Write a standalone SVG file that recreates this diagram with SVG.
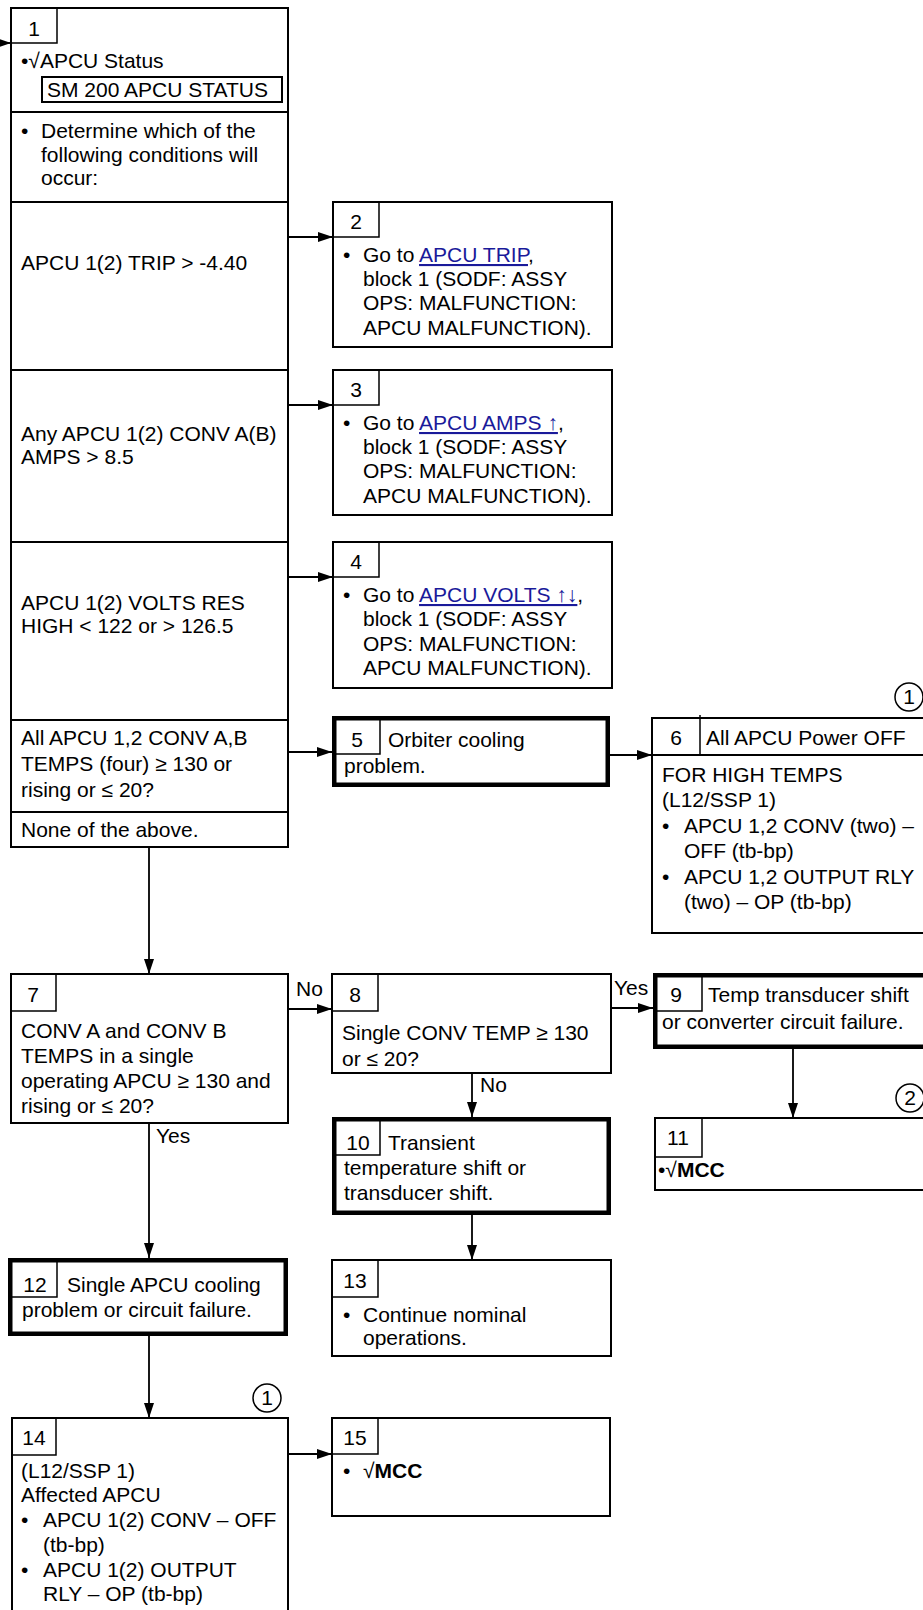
<svg xmlns="http://www.w3.org/2000/svg" width="923" height="1610" viewBox="0 0 923 1610">
<style>
text{font-family:"Liberation Sans",Arial,sans-serif;font-size:21px;fill:#000}
.box{fill:#fff;stroke:#000;stroke-width:2}
.thick{fill:#fff;stroke:#000;stroke-width:4.5}
.nb{fill:none;stroke:#000;stroke-width:1.5}
.div{fill:none;stroke:#000;stroke-width:2}
.c{text-anchor:middle}
.lnk{fill:#1a1a9a;text-decoration:underline}
.b{font-weight:bold}
.conn line,.conn path{fill:none;stroke:#000;stroke-width:1.8}
.circ{fill:#fff;stroke:#000;stroke-width:1.5}
</style>
<defs>
<marker id="ah" markerUnits="userSpaceOnUse" markerWidth="15" markerHeight="10" refX="15" refY="5" orient="auto">
<path d="M0,0 L15,5 L0,10 z" fill="#000"/>
</marker>
</defs>
<rect width="923" height="1610" fill="#fff"/>

<g id="connectors" class="conn">
<line x1="-10" y1="43" x2="11" y2="43" marker-end="url(#ah)"/>
<line x1="288" y1="237" x2="333" y2="237" marker-end="url(#ah)"/>
<line x1="288" y1="405" x2="333" y2="405" marker-end="url(#ah)"/>
<line x1="288" y1="577" x2="333" y2="577" marker-end="url(#ah)"/>
<line x1="288" y1="752" x2="332" y2="752" marker-end="url(#ah)"/>
<line x1="610" y1="755" x2="652" y2="755" marker-end="url(#ah)"/>
<line x1="149" y1="847" x2="149" y2="974" marker-end="url(#ah)"/>
<line x1="288" y1="1009" x2="332" y2="1009" marker-end="url(#ah)"/>
<line x1="611" y1="1008" x2="653" y2="1008" marker-end="url(#ah)"/>
<line x1="793" y1="1049" x2="793" y2="1118" marker-end="url(#ah)"/>
<line x1="472" y1="1073" x2="472" y2="1117" marker-end="url(#ah)"/>
<line x1="472" y1="1215" x2="472" y2="1260" marker-end="url(#ah)"/>
<line x1="149" y1="1123" x2="149" y2="1258" marker-end="url(#ah)"/>
<line x1="149" y1="1336" x2="149" y2="1418" marker-end="url(#ah)"/>
<line x1="288" y1="1454" x2="332" y2="1454" marker-end="url(#ah)"/>
<text x="296" y="996">No</text>
<text x="614" y="995">Yes</text>
<text x="480" y="1092">No</text>
<text x="156" y="1143">Yes</text>
</g>

<g id="node1">
<rect class="box" x="11" y="8" width="277" height="839"/>
<path class="nb" d="M57,8 V43 H11"/>
<text class="c" x="34" y="36">1</text>
<text x="21" y="68">•√APCU Status</text>
<rect class="box" x="42" y="77" width="240" height="25"/>
<text x="47" y="97">SM 200 APCU STATUS</text>
<line class="div" x1="11" y1="112" x2="288" y2="112"/>
<text x="21" y="138">•</text>
<text x="41" y="138">Determine which of the</text>
<text x="41" y="162">following conditions will</text>
<text x="41" y="185">occur:</text>
<line class="div" x1="11" y1="202" x2="288" y2="202"/>
<text x="21" y="270">APCU 1(2) TRIP &gt; -4.40</text>
<line class="div" x1="11" y1="370" x2="288" y2="370"/>
<text x="21" y="441">Any APCU 1(2) CONV A(B)</text>
<text x="21" y="464">AMPS &gt; 8.5</text>
<line class="div" x1="11" y1="542" x2="288" y2="542"/>
<text x="21" y="610">APCU 1(2) VOLTS RES</text>
<text x="21" y="633">HIGH &lt; 122 or &gt; 126.5</text>
<line class="div" x1="11" y1="720" x2="288" y2="720"/>
<text x="21" y="745">All APCU 1,2 CONV A,B</text>
<text x="21" y="771">TEMPS (four) ≥ 130 or</text>
<text x="21" y="797">rising or ≤ 20?</text>
<line class="div" x1="11" y1="812" x2="288" y2="812"/>
<text x="21" y="837">None of the above.</text>
</g>

<g id="node2">
<rect class="box" x="333" y="202" width="279" height="145"/>
<path class="nb" d="M379,202 V237 H333"/>
<text class="c" x="356" y="229">2</text>
<text x="343" y="262">•</text>
<text x="363" y="262">Go to <tspan class="lnk">APCU TRIP</tspan>,</text>
<text x="363" y="286">block 1 (SODF: ASSY</text>
<text x="363" y="310">OPS: MALFUNCTION:</text>
<text x="363" y="335">APCU MALFUNCTION).</text>
</g>

<g id="node3">
<rect class="box" x="333" y="370" width="279" height="145"/>
<path class="nb" d="M379,370 V405 H333"/>
<text class="c" x="356" y="397">3</text>
<text x="343" y="430">•</text>
<text x="363" y="430">Go to <tspan class="lnk">APCU AMPS ↑</tspan>,</text>
<text x="363" y="454">block 1 (SODF: ASSY</text>
<text x="363" y="478">OPS: MALFUNCTION:</text>
<text x="363" y="503">APCU MALFUNCTION).</text>
</g>

<g id="node4">
<rect class="box" x="333" y="542" width="279" height="146"/>
<path class="nb" d="M379,542 V577 H333"/>
<text class="c" x="356" y="569">4</text>
<text x="343" y="602">•</text>
<text x="363" y="602">Go to <tspan class="lnk">APCU VOLTS ↑↓</tspan>,</text>
<text x="363" y="626">block 1 (SODF: ASSY</text>
<text x="363" y="651">OPS: MALFUNCTION:</text>
<text x="363" y="675">APCU MALFUNCTION).</text>
</g>

<g id="node5">
<rect class="thick" x="334.25" y="718.25" width="273.5" height="66.5"/>
<path class="nb" d="M380,720 V754 H336"/>
<text class="c" x="357" y="747">5</text>
<text x="388" y="747">Orbiter cooling</text>
<text x="344" y="773">problem.</text>
</g>

<g id="node6">
<rect class="box" x="652" y="718" width="290" height="215"/>
<line class="div" x1="652" y1="755" x2="942" y2="755"/>
<line class="nb" x1="700" y1="715" x2="700" y2="755"/>
<text class="c" x="676" y="745">6</text>
<text x="706" y="745">All APCU Power OFF</text>
<text x="662" y="782">FOR HIGH TEMPS</text>
<text x="662" y="807">(L12/SSP 1)</text>
<text x="662" y="833">•</text>
<text x="684" y="833">APCU 1,2 CONV (two) –</text>
<text x="684" y="858">OFF (tb-bp)</text>
<text x="662" y="884">•</text>
<text x="684" y="884">APCU 1,2 OUTPUT RLY</text>
<text x="684" y="909">(two) – OP (tb-bp)</text>
<circle class="circ" cx="909" cy="697" r="14"/>
<text class="c" x="909" y="704">1</text>
</g>

<g id="node7">
<rect class="box" x="11" y="974" width="277" height="149"/>
<path class="nb" d="M56,974 V1011 H11"/>
<text class="c" x="33" y="1002">7</text>
<text x="21" y="1038">CONV A and CONV B</text>
<text x="21" y="1063">TEMPS in a single</text>
<text x="21" y="1088">operating APCU ≥ 130 and</text>
<text x="21" y="1113">rising or ≤ 20?</text>
</g>

<g id="node8">
<rect class="box" x="332" y="974" width="279" height="99"/>
<path class="nb" d="M378,974 V1011 H332"/>
<text class="c" x="355" y="1002">8</text>
<text x="342" y="1040">Single CONV TEMP ≥ 130</text>
<text x="342" y="1066">or ≤ 20?</text>
</g>

<g id="node9">
<rect class="thick" x="655.25" y="975.25" width="290" height="71.5"/>
<path class="nb" d="M702,977 V1011 H657"/>
<text class="c" x="676" y="1002">9</text>
<text x="708" y="1002">Temp transducer shift</text>
<text x="662" y="1029">or converter circuit failure.</text>
</g>

<g id="node10">
<rect class="thick" x="334.25" y="1119.25" width="274.5" height="93.5"/>
<path class="nb" d="M380,1121 V1155 H336"/>
<text class="c" x="358" y="1150">10</text>
<text x="388" y="1150">Transient</text>
<text x="344" y="1175">temperature shift or</text>
<text x="344" y="1200">transducer shift.</text>
</g>

<g id="node11">
<rect class="box" x="655" y="1118" width="290" height="72"/>
<path class="nb" d="M702,1118 V1157 H655"/>
<text class="c" x="678" y="1145">11</text>
<text x="658" y="1177">•√<tspan class="b">MCC</tspan></text>
<circle class="circ" cx="910" cy="1098" r="14"/>
<text class="c" x="910" y="1105">2</text>
</g>

<g id="node12">
<rect class="thick" x="10.25" y="1260.25" width="275.5" height="73.5"/>
<path class="nb" d="M57,1262 V1297 H12"/>
<text class="c" x="35" y="1292">12</text>
<text x="67" y="1292">Single APCU cooling</text>
<text x="22" y="1317">problem or circuit failure.</text>
</g>

<g id="node13">
<rect class="box" x="332" y="1260" width="279" height="96"/>
<path class="nb" d="M378,1260 V1297 H332"/>
<text class="c" x="355" y="1288">13</text>
<text x="343" y="1322">•</text>
<text x="363" y="1322">Continue nominal</text>
<text x="363" y="1345">operations.</text>
</g>

<g id="node14">
<rect class="box" x="12" y="1418" width="276" height="210"/>
<path class="nb" d="M56,1418 V1455 H12"/>
<text class="c" x="34" y="1445">14</text>
<text x="21" y="1478">(L12/SSP 1)</text>
<text x="21" y="1502">Affected APCU</text>
<text x="21" y="1527">•</text>
<text x="43" y="1527">APCU 1(2) CONV – OFF</text>
<text x="43" y="1552">(tb-bp)</text>
<text x="21" y="1577">•</text>
<text x="43" y="1577">APCU 1(2) OUTPUT</text>
<text x="43" y="1601">RLY – OP (tb-bp)</text>
<circle class="circ" cx="267" cy="1398" r="14"/>
<text class="c" x="267" y="1405">1</text>
</g>

<g id="node15">
<rect class="box" x="332" y="1418" width="278" height="98"/>
<path class="nb" d="M378,1418 V1454 H332"/>
<text class="c" x="355" y="1445">15</text>
<text x="343" y="1478">•</text>
<text x="363" y="1478">√<tspan class="b">MCC</tspan></text>
</g>
</svg>
